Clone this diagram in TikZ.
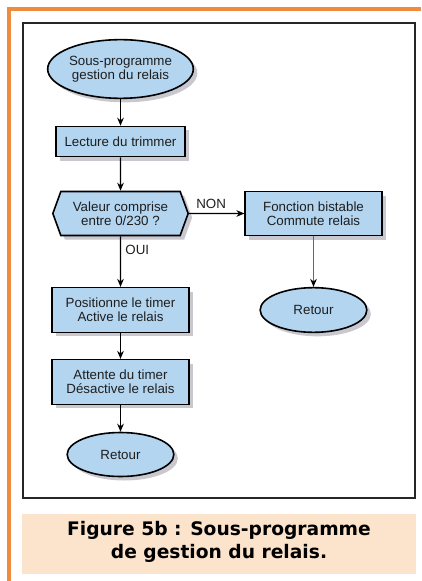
\documentclass[tikz,border=0pt]{standalone}
\usepackage{fontspec}
\setmainfont{Liberation Sans}
\newfontfamily\capfont{DejaVu Sans}
\usetikzlibrary{shapes,arrows}
\usetikzlibrary{shapes.symbols}
\usetikzlibrary{arrows.meta}
\usetikzlibrary{shadows}
\usetikzlibrary{calc,positioning}

\definecolor{boxblue}{RGB}{179,213,240}
\definecolor{shadowgray}{RGB}{200,200,206}
\definecolor{frameorange}{RGB}{240,138,60}
\definecolor{captionpeach}{RGB}{252,227,204}
\definecolor{inkgray}{RGB}{30,30,30}

\tikzset{
    flowshadow/.style={drop shadow={fill=shadowgray, opacity=1, shadow xshift=3pt, shadow yshift=-3pt}},
    flowbox/.style={draw=black, line width=1.2pt, fill=boxblue, flowshadow, align=center,
        inner sep=0pt, text=inkgray, font=\fontsize{10}{10.5}\selectfont},
    process/.style={flowbox, rectangle},
    terminal/.style={flowbox, ellipse},
    decision/.style={flowbox, signal, signal to=west and east, signal pointer angle=140},
    flow/.style={line width=0.8pt, -{Stealth[length=6pt,width=5pt]}},
    answer/.style={text=inkgray, font=\fontsize{10}{10.5}\selectfont},
}

\begin{document}
\begin{tikzpicture}[x=0.75pt, y=-0.75pt]
    \useasboundingbox (0,0) rectangle (421,581);
    % frame and caption
    \draw[frameorange, line width=3pt] (9,581) -- (9,9) -- (421,9);
    \draw[line width=1.4pt, color=black!85] (23,23) rectangle (415,498);
    \fill[captionpeach] (22,514) rectangle (416,574);
    \node[align=center, font=\capfont\bfseries\fontsize{14}{17.25}\selectfont] (caption) at (219,542)
        {Figure 5b : Sous-programme\\de gestion du relais.};

    % main column
    \node[terminal, minimum width=97pt, minimum height=44pt] (start) at (120.5,69)
        {Sous-programme\\gestion du relais};
    \node[process, minimum width=96.5pt, minimum height=22.5pt] (read) at (120.5,141.5)
        {Lecture du trimmer};
    \node[decision, minimum width=101.5pt, minimum height=33pt] (test) at (120.5,213.5)
        {Valeur comprise\\entre 0/230 ?};
    \node[process, minimum width=102.5pt, minimum height=33.5pt] (settimer) at (120.5,310)
        {Positionne le timer\\Active le relais};
    \node[process, minimum width=102.5pt, minimum height=33.5pt] (waittimer) at (120.5,382)
        {Attente du timer\\D\'esactive le relais};
    \node[terminal, minimum width=80pt, minimum height=33pt] (endleft) at (120.5,454.5)
        {Retour};

    % right column
    \node[process, minimum width=102.5pt, minimum height=33pt] (bistable) at (313.5,213.5)
        {Fonction bistable\\Commute relais};
    \node[terminal, minimum width=80pt, minimum height=33.5pt] (endright) at (313.5,310)
        {Retour};

    \draw[flow] (start) -- (read);
    \draw[flow] (read) -- (test);
    \draw[flow] (test) -- node[answer, pos=0.4, above] {NON} (bistable);
    \draw[flow] (test) -- node[answer, pos=0.27, right] {OUI} (settimer);
    \draw[flow] (settimer) -- (waittimer);
    \draw[flow] (waittimer) -- (endleft);
    \draw[flow, draw=black!60, -{Stealth[length=6pt,width=5pt,black]}] (bistable) -- (endright);
\end{tikzpicture}
\end{document}
